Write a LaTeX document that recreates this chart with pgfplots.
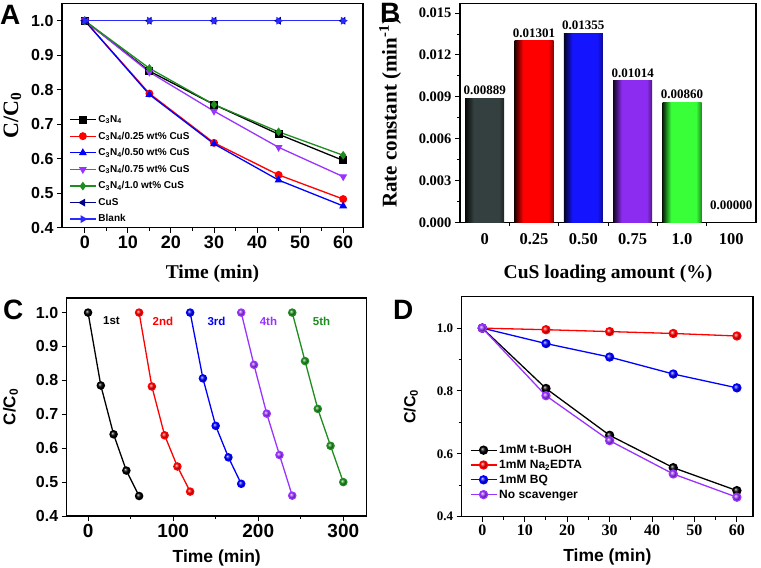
\documentclass[border=0pt]{standalone}
\usepackage{pgfplots}
\pgfplotsset{compat=1.18}
\usetikzlibrary{plotmarks}
\usepackage{fontspec}
\setmainfont{Liberation Sans}
\newfontfamily\tms{Liberation Serif}

\definecolor{cRed}{HTML}{FF0000}
\definecolor{cBlue}{HTML}{0000FF}
\definecolor{cPurple}{HTML}{9933FF}
\definecolor{cGreen}{HTML}{1E8C1E}
\definecolor{cNavy}{HTML}{00008B}
\definecolor{cBlank}{HTML}{2B2BFF}
\definecolor{bGray}{HTML}{34403F}
\definecolor{bRed}{HTML}{FF0000}
\definecolor{bBlue}{HTML}{1414FF}
\definecolor{bPurple}{HTML}{8C2CF0}
\definecolor{bGreen}{HTML}{38FF38}

% horizontal bar shading: dark left edge, flat middle, darker right edge
\newcommand\barshade[1]{%
  \colorlet{#1L}{#1!12!black}\colorlet{#1R}{#1!55!black}%
  \pgfdeclarehorizontalshading{sh#1}{100bp}{color(0bp)=(#1L); color(25bp)=(#1L);
    color(36bp)=(#1); color(68bp)=(#1); color(75bp)=(#1R); color(100bp)=(#1R)}}
\barshade{bGray}\barshade{bRed}\barshade{bBlue}\barshade{bPurple}\barshade{bGreen}

\pgfplotsset{
  panel/.style={
    scale only axis,
    axis line style={line width=1.1pt},
    tick align=outside,
    tick pos=left,
    major tick length=5pt,
    minor tick length=3pt,
    every tick/.style={black, line width=1pt},
    /pgf/number format/assume math mode=true,
    legend cell align=left,
    legend image code/.code={%
      \draw[mark repeat=2,mark phase=2,##1] plot coordinates {(0pt,0pt) (13pt,0pt) (26pt,0pt)};},
  },
}

\begin{document}
\begin{tikzpicture}[x=1pt,y=1pt]
\path[use as bounding box] (0,0) rectangle (761,-568);

% ---------------- A ----------------
\begin{axis}[panel,
  at={(62pt,-3.5pt)}, anchor=north west,
  width=301pt, height=224.2pt,
  xmin=-5.3, xmax=64.6, ymin=0.4, ymax=1.05,
  xtick={0,10,...,60}, minor x tick num=1,
  ytick={0.4,0.5,...,1.0},
  yticklabel style={font=\fontsize{16}{16}\selectfont\bfseries, /pgf/number format/fixed, /pgf/number format/precision=1, /pgf/number format/zerofill},
  xticklabel style={font=\fontsize{18}{18}\selectfont\bfseries},
  xlabel={Time (min)}, ylabel={C/C\textsubscript{0}},
  xlabel style={font=\tms\fontsize{19.5}{20}\selectfont\bfseries},
  ylabel style={font=\tms\fontsize{22}{22}\selectfont\bfseries},
  xlabel shift=9pt, ylabel shift=3pt,
  legend style={draw=none, fill=none, at={(0,0)}, anchor=south west, xshift=4pt, yshift=0pt,
    font=\fontsize{10}{11}\selectfont\bfseries, row sep=3.9pt},
  every axis plot/.append style={line width=1.3pt, mark size=3.3pt},
]
\addplot[black, mark=square*] coordinates {(0,1.0) (15,0.854) (30,0.757) (45,0.671) (60,0.595)};
\addplot[cRed, mark=*] coordinates {(0,1.0) (15,0.789) (30,0.646) (45,0.553) (60,0.483)};
\addplot[cBlue, mark=triangle*] coordinates {(0,1.0) (15,0.786) (30,0.643) (45,0.538) (60,0.463)};
\addplot[cPurple, mark=triangle*, mark options={rotate=180}] coordinates {(0,1.0) (15,0.851) (30,0.738) (45,0.633) (60,0.548)};
\addplot[cGreen, mark=diamond*] coordinates {(0,1.0) (15,0.862) (30,0.757) (45,0.678) (60,0.610)};
\addplot[cNavy, mark=triangle*, mark options={rotate=90}] coordinates {(0,1.0) (15,1.0) (30,1.0) (45,1.0) (60,1.0)};
\addplot[cBlank, mark=triangle*, mark options={rotate=-90}] coordinates {(0,1.0) (15,1.0) (30,1.0) (45,1.0) (60,1.0)};
\legend{C\textsubscript{3}N\textsubscript{4},
  C\textsubscript{3}N\textsubscript{4}/0.25 wt\% CuS,
  C\textsubscript{3}N\textsubscript{4}/0.50 wt\% CuS,
  C\textsubscript{3}N\textsubscript{4}/0.75 wt\% CuS,
  C\textsubscript{3}N\textsubscript{4}/1.0 wt\% CuS,
  CuS, Blank}
\end{axis}

% ---------------- B ----------------
\begin{axis}[panel,
  at={(460pt,-3.3pt)}, anchor=north west,
  width=296pt, height=219.2pt,
  xmin=-0.5, xmax=5.5, ymin=0, ymax=0.0157,
  xtick={0,1,2,3,4,5}, xticklabels={0,0.25,0.50,0.75,1.0,100},
  minor x tick num=1, major x tick style={draw=none},
  ytick={0,0.003,...,0.015}, minor y tick num=1,
  scaled y ticks=false,
  yticklabel style={font=\tms\fontsize{14.5}{15}\selectfont\bfseries, /pgf/number format/fixed, /pgf/number format/precision=3, /pgf/number format/zerofill},
  xticklabel style={font=\tms\fontsize{16.5}{17}\selectfont\bfseries, yshift=-2pt},
  xlabel={CuS loading amount (\%)}, ylabel={Rate constant (min\textsuperscript{-1})},
  xlabel style={font=\tms\fontsize{19.5}{20}\selectfont\bfseries},
  ylabel style={font=\tms\fontsize{21}{21}\selectfont\bfseries},
  xlabel shift=14pt, ylabel shift=11pt,
  bar width=39pt,
  nodes near coords,
  every node near coord/.append style={font=\tms\fontsize{13}{13}\selectfont\bfseries, black,
    /pgf/number format/fixed, /pgf/number format/precision=5, /pgf/number format/zerofill},
]
\addplot[ybar, draw=none, shading=shbGray] coordinates {(0,0.00889)};
\addplot[ybar, draw=none, shading=shbRed] coordinates {(1,0.01301)};
\addplot[ybar, draw=none, shading=shbBlue] coordinates {(2,0.01355)};
\addplot[ybar, draw=none, shading=shbPurple] coordinates {(3,0.01014)};
\addplot[ybar, draw=none, shading=shbGreen] coordinates {(4,0.00860)};
\addplot[ybar, draw=none, fill=none, every node near coord/.append style={yshift=9pt}] coordinates {(5,0)};
\end{axis}

% ---------------- C ----------------
\begin{axis}[panel,
  at={(66.7pt,-298pt)}, anchor=north west,
  width=300pt, height=218pt,
  xmin=-25.1, xmax=327.5, ymin=0.4, ymax=1.043,
  xtick={0,100,200,300}, minor x tick num=1,
  ytick={0.4,0.5,...,1.0},
  yticklabel style={font=\fontsize{16}{16}\selectfont\bfseries, /pgf/number format/fixed, /pgf/number format/precision=1, /pgf/number format/zerofill},
  xticklabel style={font=\fontsize{19}{19}\selectfont\bfseries},
  xlabel={Time (min)}, ylabel={C/C\textsubscript{0}},
  xlabel style={font=\fontsize{17.5}{18}\selectfont\bfseries},
  ylabel style={font=\fontsize{17}{17}\selectfont\bfseries},
  xlabel shift=5pt, ylabel shift=11pt,
  every axis plot/.append style={line width=1.3pt, mark=ball, mark size=3.6pt},
  clip=false,
]
\addplot[black, mark options={ball color=black}] coordinates {(0,1.0) (15,0.785) (30,0.641) (45,0.534) (60,0.459)};
\addplot[cRed, mark options={ball color=cRed}] coordinates {(60,1.0) (75,0.782) (90,0.638) (105,0.546) (120,0.472)};
\addplot[cBlue, mark options={ball color=cBlue}] coordinates {(120,1.0) (135,0.806) (150,0.666) (165,0.573) (180,0.495)};
\addplot[cPurple, mark options={ball color=cPurple}] coordinates {(180,1.0) (195,0.846) (210,0.702) (225,0.580) (240,0.460)};
\addplot[cGreen, mark options={ball color=cGreen}] coordinates {(240,1.0) (255,0.857) (270,0.716) (285,0.607) (300,0.500)};
\begin{scope}[font=\fontsize{11.5}{12}\selectfont\bfseries]
\node[black] at (axis cs:27.5,0.975) {1st};
\node[cRed] at (axis cs:88,0.975) {2nd};
\node[cBlue] at (axis cs:151,0.975) {3rd};
\node[cPurple] at (axis cs:212,0.975) {4th};
\node[cGreen] at (axis cs:274.5,0.975) {5th};
\end{scope}
\end{axis}

% ---------------- D ----------------
\begin{axis}[panel,
  at={(461.7pt,-296.7pt)}, anchor=north west,
  width=291.3pt, height=220pt,
  xmin=-4.87, xmax=63.8, ymin=0.4, ymax=1.1,
  xtick={0,10,...,60}, minor x tick num=1,
  ytick={0.4,0.6,0.8,1.0}, minor y tick num=1,
  yticklabel style={font=\tms\fontsize{13}{13}\selectfont\bfseries, /pgf/number format/fixed, /pgf/number format/precision=1, /pgf/number format/zerofill},
  xticklabel style={font=\tms\fontsize{16}{16}\selectfont\bfseries},
  xlabel={Time (min)}, ylabel={C/C\textsubscript{0}},
  xlabel style={font=\fontsize{17.5}{18}\selectfont\bfseries},
  ylabel style={font=\fontsize{16}{16}\selectfont\bfseries},
  xlabel shift=6pt, ylabel shift=12pt,
  legend style={draw=none, fill=none, at={(0,0)}, anchor=south west, xshift=5pt, yshift=13pt,
    font=\fontsize{12}{13}\selectfont\bfseries, row sep=1pt},
  every axis plot/.append style={line width=1.3pt, mark=ball, mark size=4pt},
  clip=false,
]
\addplot[black, mark options={ball color=black}] coordinates {(0,1.0) (15,0.808) (30,0.659) (45,0.556) (60,0.483)};
\addplot[cRed, mark options={ball color=cRed}] coordinates {(0,1.0) (15,0.995) (30,0.989) (45,0.983) (60,0.975)};
\addplot[cBlue, mark options={ball color=cBlue}] coordinates {(0,1.0) (15,0.951) (30,0.908) (45,0.854) (60,0.810)};
\addplot[cPurple, mark options={ball color=cPurple}] coordinates {(0,1.0) (15,0.785) (30,0.642) (45,0.536) (60,0.462)};
\legend{1mM t-BuOH, 1mM Na\textsubscript{2}EDTA, 1mM BQ, No scavenger}
\end{axis}

% panel letters
\begin{scope}[font=\fontsize{28}{28}\selectfont\bfseries]
\node[anchor=north west, inner sep=0pt] at (0,-5) {A};
\node[anchor=north west, inner sep=0pt] at (380,-3) {B};
\node[anchor=north west, inner sep=0pt] at (3,-300) {C};
\node[anchor=north west, inner sep=0pt] at (393,-300) {D};
\end{scope}
\end{tikzpicture}
\end{document}
